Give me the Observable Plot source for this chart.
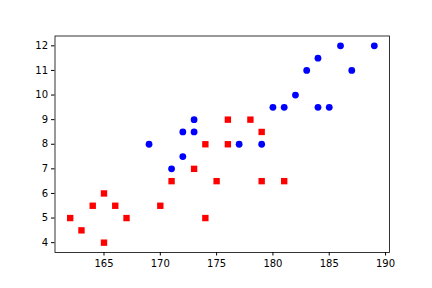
<!DOCTYPE html>
<html>
<head>
<meta charset="utf-8">
<script src="https://cdn.jsdelivr.net/npm/d3@7"></script>
<script src="https://cdn.jsdelivr.net/npm/@observablehq/plot@0.6"></script>
<style>
html,body{margin:0;padding:0;background:#fff;}
svg{display:block;}
</style>
</head>
<body>
<div id="chart"></div>
<script>
const redX = [162,163,164,165,165,166,167,170,171,173,174,174,175,176,176,178,179,179,181];
const redY = [5,4.5,5.5,6,4,5.5,5,5.5,6.5,7,8,5,6.5,9,8,9,8.5,6.5,6.5];
const blueX = [169,171,172,172,173,173,177,179,180,181,182,183,184,184,185,186,187,189];
const blueY = [8,7,8.5,7.5,9,8.5,8,8,9.5,9.5,10,11,11.5,9.5,9.5,12,11,12];
const xTicks = [165,170,175,180,185,190];
const yTicks = [4,5,6,7,8,9,10,11,12];

const red = redX.map((x,i)=>({x, y: redY[i]}));
const blue = blueX.map((x,i)=>({x, y: blueY[i]}));

const chart = Plot.plot({
  width: 432,
  height: 288,
  marginLeft: 54.5,
  marginRight: 43,
  marginTop: 35.5,
  marginBottom: 36,
  style: {fontFamily: "DejaVu Sans", fontSize: "10px", color: "#000", background: "#fff"},
  x: {domain: [160.65, 190.35], ticks: xTicks, tickSize: 3.5, tickPadding: 3.5, label: null},
  y: {domain: [3.6, 12.4], ticks: yTicks, tickSize: 3.5, tickPadding: 3.5, label: null},
  marks: [
    Plot.dot(red, {x: "x", y: "y", symbol: "square", r: 3.6, fill: "#ff0000", stroke: "none"}),
    Plot.dot(blue, {x: "x", y: "y", symbol: "circle", r: 3.4, fill: "#0000ff", stroke: "none"}),
    Plot.frame({stroke: "#000", strokeWidth: 0.8})
  ]
});
document.getElementById("chart").appendChild(chart);
</script>
</body>
</html>
